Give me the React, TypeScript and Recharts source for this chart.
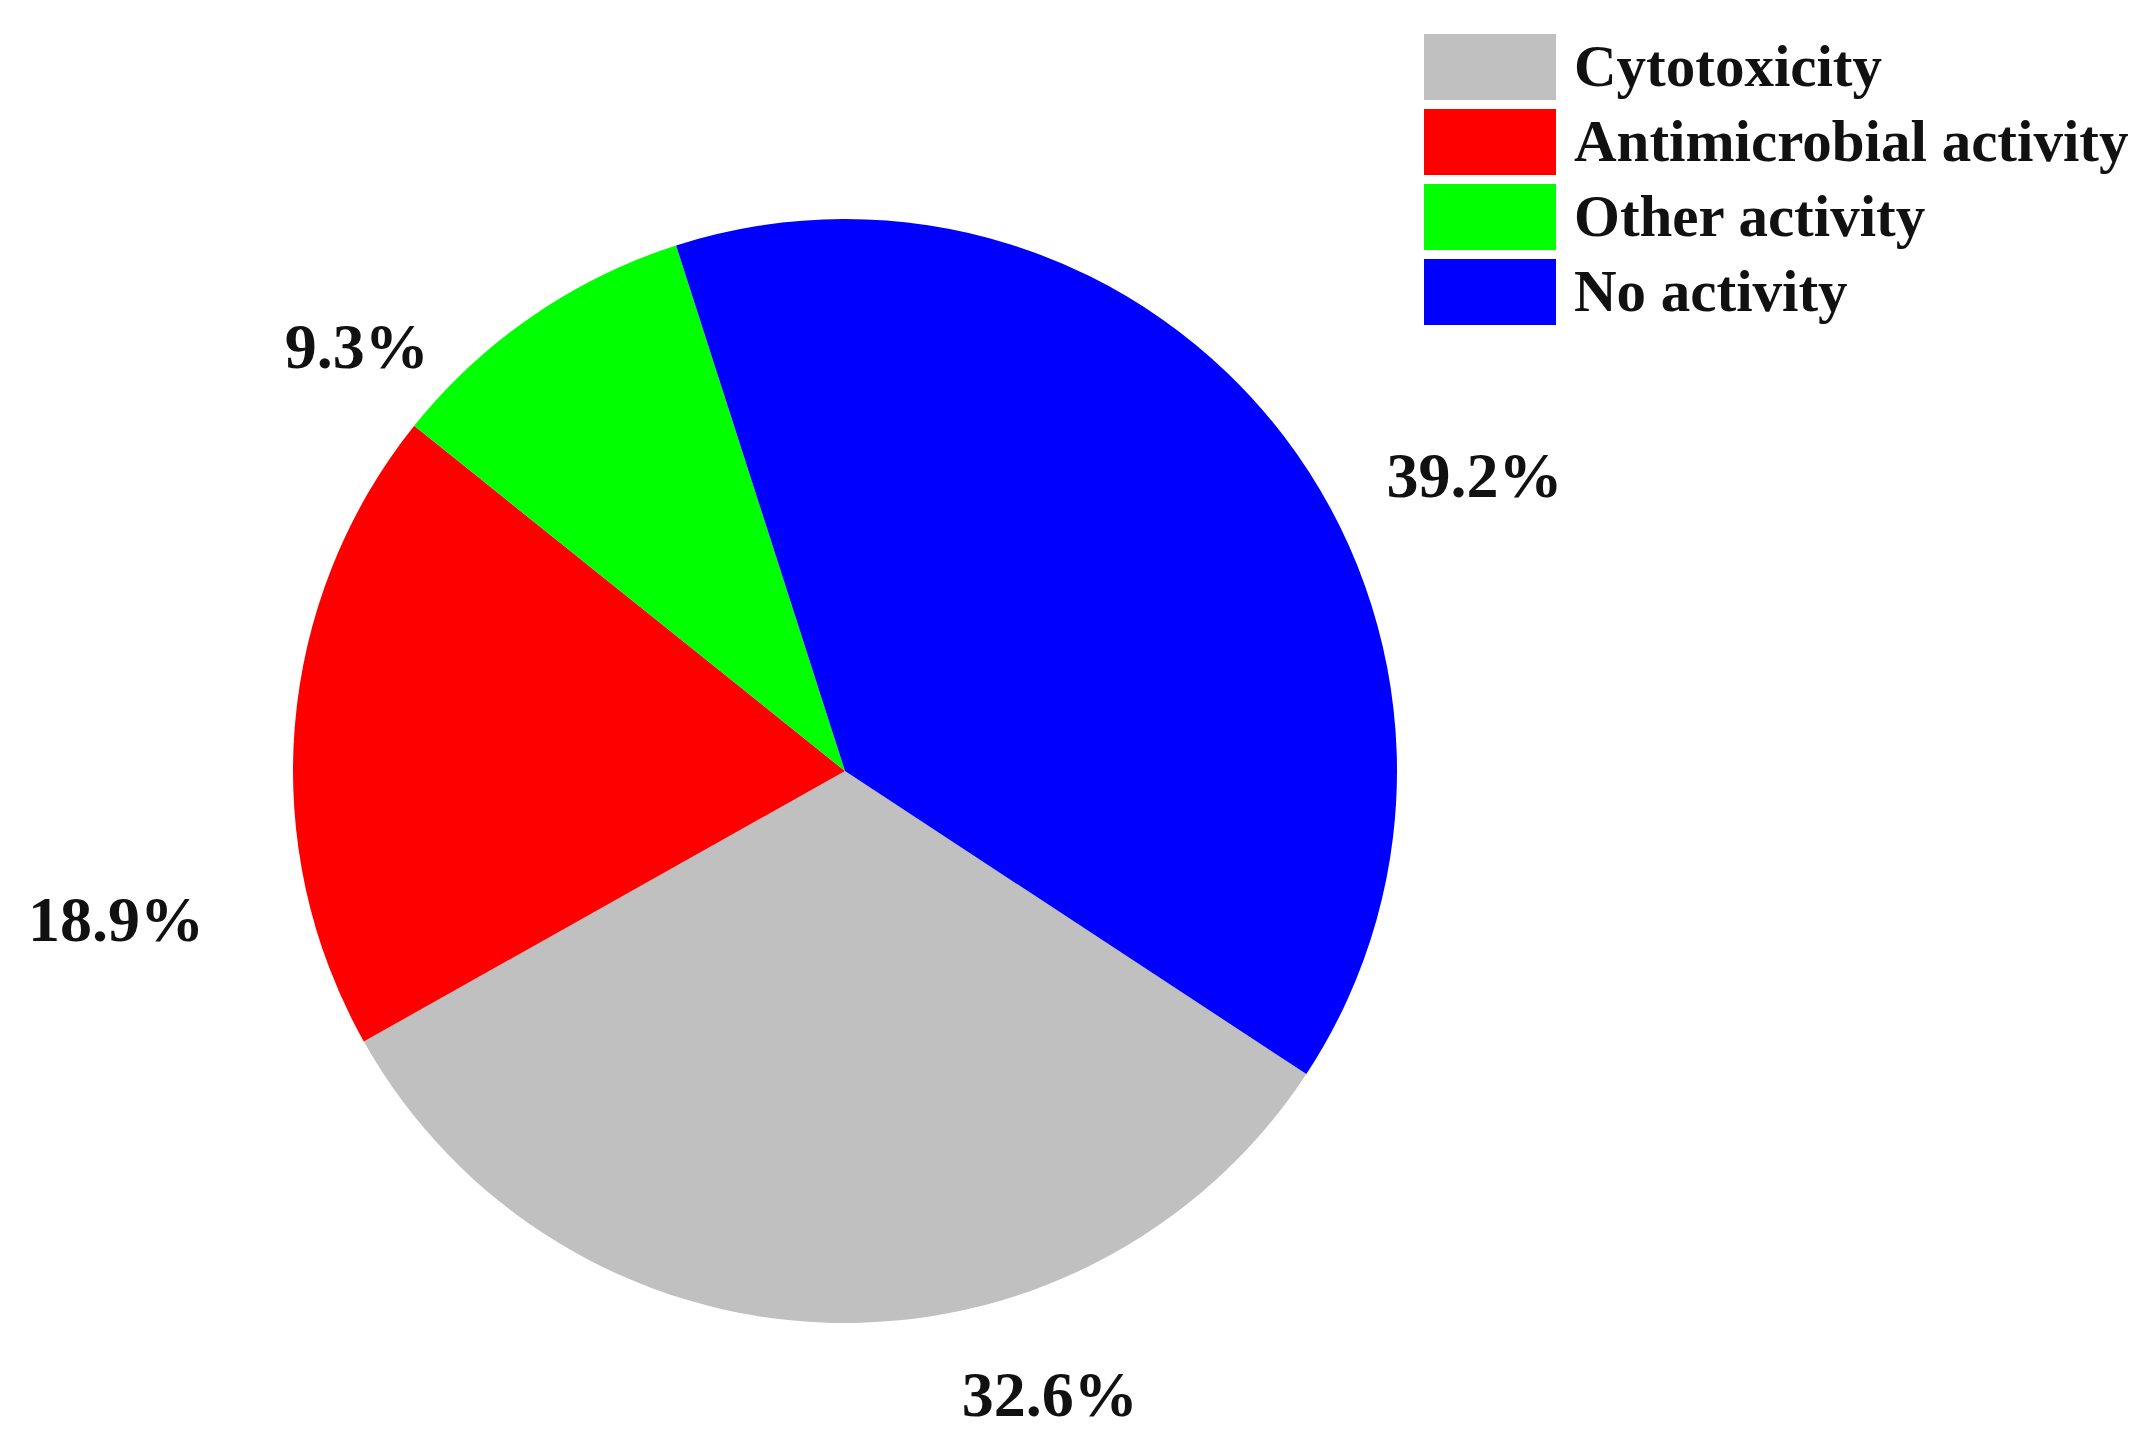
import React from 'react';
import { PieChart, Pie, Cell, Legend } from 'recharts';

const categories = ['Cytotoxicity', 'Antimicrobial activity', 'Other activity', 'No activity'];
const shares = [32.6, 18.9, 9.3, 39.2];
const colors = ['#c0c0c0', '#ff0000', '#00ff00', '#0000ff'];

const data = categories.map((name, i) => ({ name, value: shares[i] }));

// where each percentage sits: degrees clockwise from 12 o'clock, distance as a fraction of the radius
const labelSpots = [
  { angle: 162, dist: 1.2 },
  { angle: 258, dist: 1.35 },
  { angle: 310.6, dist: 1.165 },
  { angle: 65.3, dist: 1.255 },
];

const serif = '"Liberation Serif", "Times New Roman", serif';

const renderLabel = (props: any) => {
  const { cx, cy, outerRadius, index, value } = props;
  const spot = labelSpots[index];
  const rad = (spot.angle * Math.PI) / 180;
  const x = cx + Math.sin(rad) * outerRadius * spot.dist;
  const y = cy - Math.cos(rad) * outerRadius * spot.dist - 6;
  return (
    <text
      x={x}
      y={y}
      textAnchor="middle"
      dominantBaseline="central"
      fontFamily={serif}
      fontWeight="bold"
      fontSize={64}
      fill="#111"
    >
      {value.toFixed(1)}%
    </text>
  );
};

const renderLegend = (props: any) => {
  // keep the legend in data order, not alphabetical
  const items = [...(props.payload || [])].sort(
    (a: any, b: any) => categories.indexOf(a.value) - categories.indexOf(b.value)
  );
  return (
    <div>
      {items.map((entry: any) => (
        <div key={entry.value} style={{ display: 'flex', alignItems: 'center', height: 75 }}>
          <div style={{ width: 132, height: 66, background: entry.color, marginRight: 18 }} />
          <span style={{ fontFamily: serif, fontWeight: 'bold', fontSize: 59, color: '#111', lineHeight: 1 }}>
            {entry.value}
          </span>
        </div>
      ))}
    </div>
  );
};

export default function App() {
  return (
    <div style={{ position: 'absolute', left: 0, top: 0, background: '#fff' }}>
      <PieChart width={2153} height={1451}>
        <Pie
          data={data}
          dataKey="value"
          nameKey="name"
          cx={840}
          cy={766}
          outerRadius={552}
          startAngle={-33.3}
          endAngle={-393.3}
          stroke="none"
          labelLine={false}
          label={renderLabel}
          isAnimationActive={false}
        >
          {data.map((d, i) => (
            <Cell key={d.name} fill={colors[i]} />
          ))}
        </Pie>
        <Legend
          content={renderLegend}
          wrapperStyle={{ position: 'absolute', left: 1424, top: 29, width: 'auto' }}
        />
      </PieChart>
    </div>
  );
}
